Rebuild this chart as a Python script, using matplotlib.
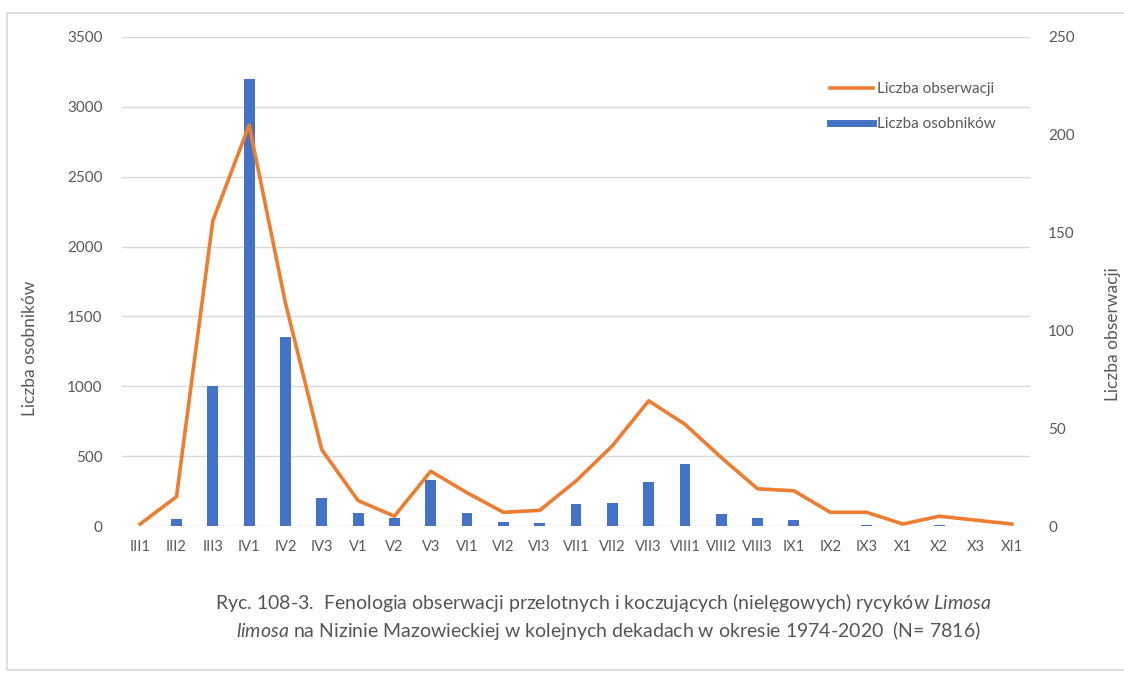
import matplotlib
matplotlib.use("Agg")
import matplotlib.pyplot as plt
from matplotlib.patches import Rectangle
from matplotlib.lines import Line2D
import numpy as np

plt.rcParams['font.family'] = ['Lato', 'DejaVu Sans']
plt.rcParams['mathtext.fontset'] = 'custom'
plt.rcParams['mathtext.rm'] = 'Lato'
plt.rcParams['mathtext.it'] = 'Lato:italic'

# dekady (miesiac + dekada)
categories = ["III1", "III2", "III3", "IV1", "IV2", "IV3", "V1", "V2", "V3",
              "VI1", "VI2", "VI3", "VII1", "VII2", "VII3", "VIII1", "VIII2",
              "VIII3", "IX1", "IX2", "IX3", "X1", "X2", "X3", "XI1"]
# liczba osobnikow (lewa os)
osobniki = [0, 50, 1000, 3200, 1350, 200, 90, 55, 330, 90, 30, 25, 155, 165,
            315, 445, 85, 55, 45, 0, 10, 0, 10, 0, 0]
# liczba obserwacji (prawa os)
obserwacje = [1, 15, 156, 205, 114, 39, 13, 5, 28, 17, 7, 8, 23, 41, 64, 52,
              35, 19, 18, 7, 7, 1, 5, 3, 1]

left_ticks = [0, 500, 1000, 1500, 2000, 2500, 3000, 3500]
right_ticks = [0, 50, 100, 150, 200, 250]

BLUE = "#4472C4"
ORANGE = "#ED7D31"
GREY = "#595959"

fig = plt.figure(figsize=(11.24, 6.73), dpi=100)
ax = fig.add_axes([122/1124, 1 - 526/673, 908/1124, 489/673])
ax2 = ax.twinx()

x = np.arange(len(categories))
ax.bar(x, osobniki, width=0.3, color=BLUE, zorder=3)
ax2.plot(x, obserwacje, color=ORANGE, lw=2.6, zorder=4, solid_joinstyle='round')

ax.set_xlim(-0.5, len(categories) - 0.5)
ax.set_ylim(0, 3500)
ax2.set_ylim(0, 250)
ax.set_yticks(left_ticks)
ax2.set_yticks(right_ticks)
ax.set_xticks(x)
ax.set_xticklabels(categories)

ax.grid(axis='y', color='#D9D9D9', lw=1.0, zorder=0)
ax.set_axisbelow(True)
for a in (ax, ax2):
    for s in a.spines.values():
        s.set_visible(False)
    a.tick_params(length=0, colors=GREY, labelsize=11)
ax.tick_params(axis='y', pad=14)
ax.tick_params(axis='x', pad=10, labelsize=10.5)
ax2.tick_params(axis='y', pad=13)

ax.set_ylabel("Liczba osobników", color=GREY, fontsize=12.5)
ax.yaxis.set_label_coords(-0.0925, 0.364)
ax2.set_ylabel("Liczba obserwacji", color=GREY, fontsize=12.5)
ax2.yaxis.set_label_coords(1.0826, 0.393)

handles = [Line2D([0], [0], color=ORANGE, lw=2.6),
           Line2D([0], [0], color=BLUE, lw=5)]
leg = ax2.legend(handles, ["Liczba obserwacji", "Liczba osobników"],
                 loc='upper left', bbox_to_anchor=(0.78, 0.907),
                 frameon=False, fontsize=11, handlelength=2.8,
                 handletextpad=0.25, labelspacing=1.35, borderpad=0,
                 borderaxespad=0)
for t in leg.get_texts():
    t.set_color(GREY)

fig.text(0.537, 1 - 602/673,
         r"Ryc. 108-3.  Fenologia obserwacji przelotnych i koczujących (nielęgowych) rycyków $\mathit{Limosa}$",
         ha='center', va='center', fontsize=14, color='#555555')
fig.text(0.541, 1 - 630/673,
         r"$\mathit{limosa}$ na Nizinie Mazowieckiej w kolejnych dekadach w okresie 1974-2020  (N= 7816)",
         ha='center', va='center', fontsize=14, color='#555555')

# ramka wykresu
fig.patches.append(Rectangle((7/1124, 3/673), 1.0, 1 - 16/673,
                             transform=fig.transFigure, fill=False,
                             ec='#D9D9D9', lw=1.2))

plt.savefig("out.png", dpi=100)
